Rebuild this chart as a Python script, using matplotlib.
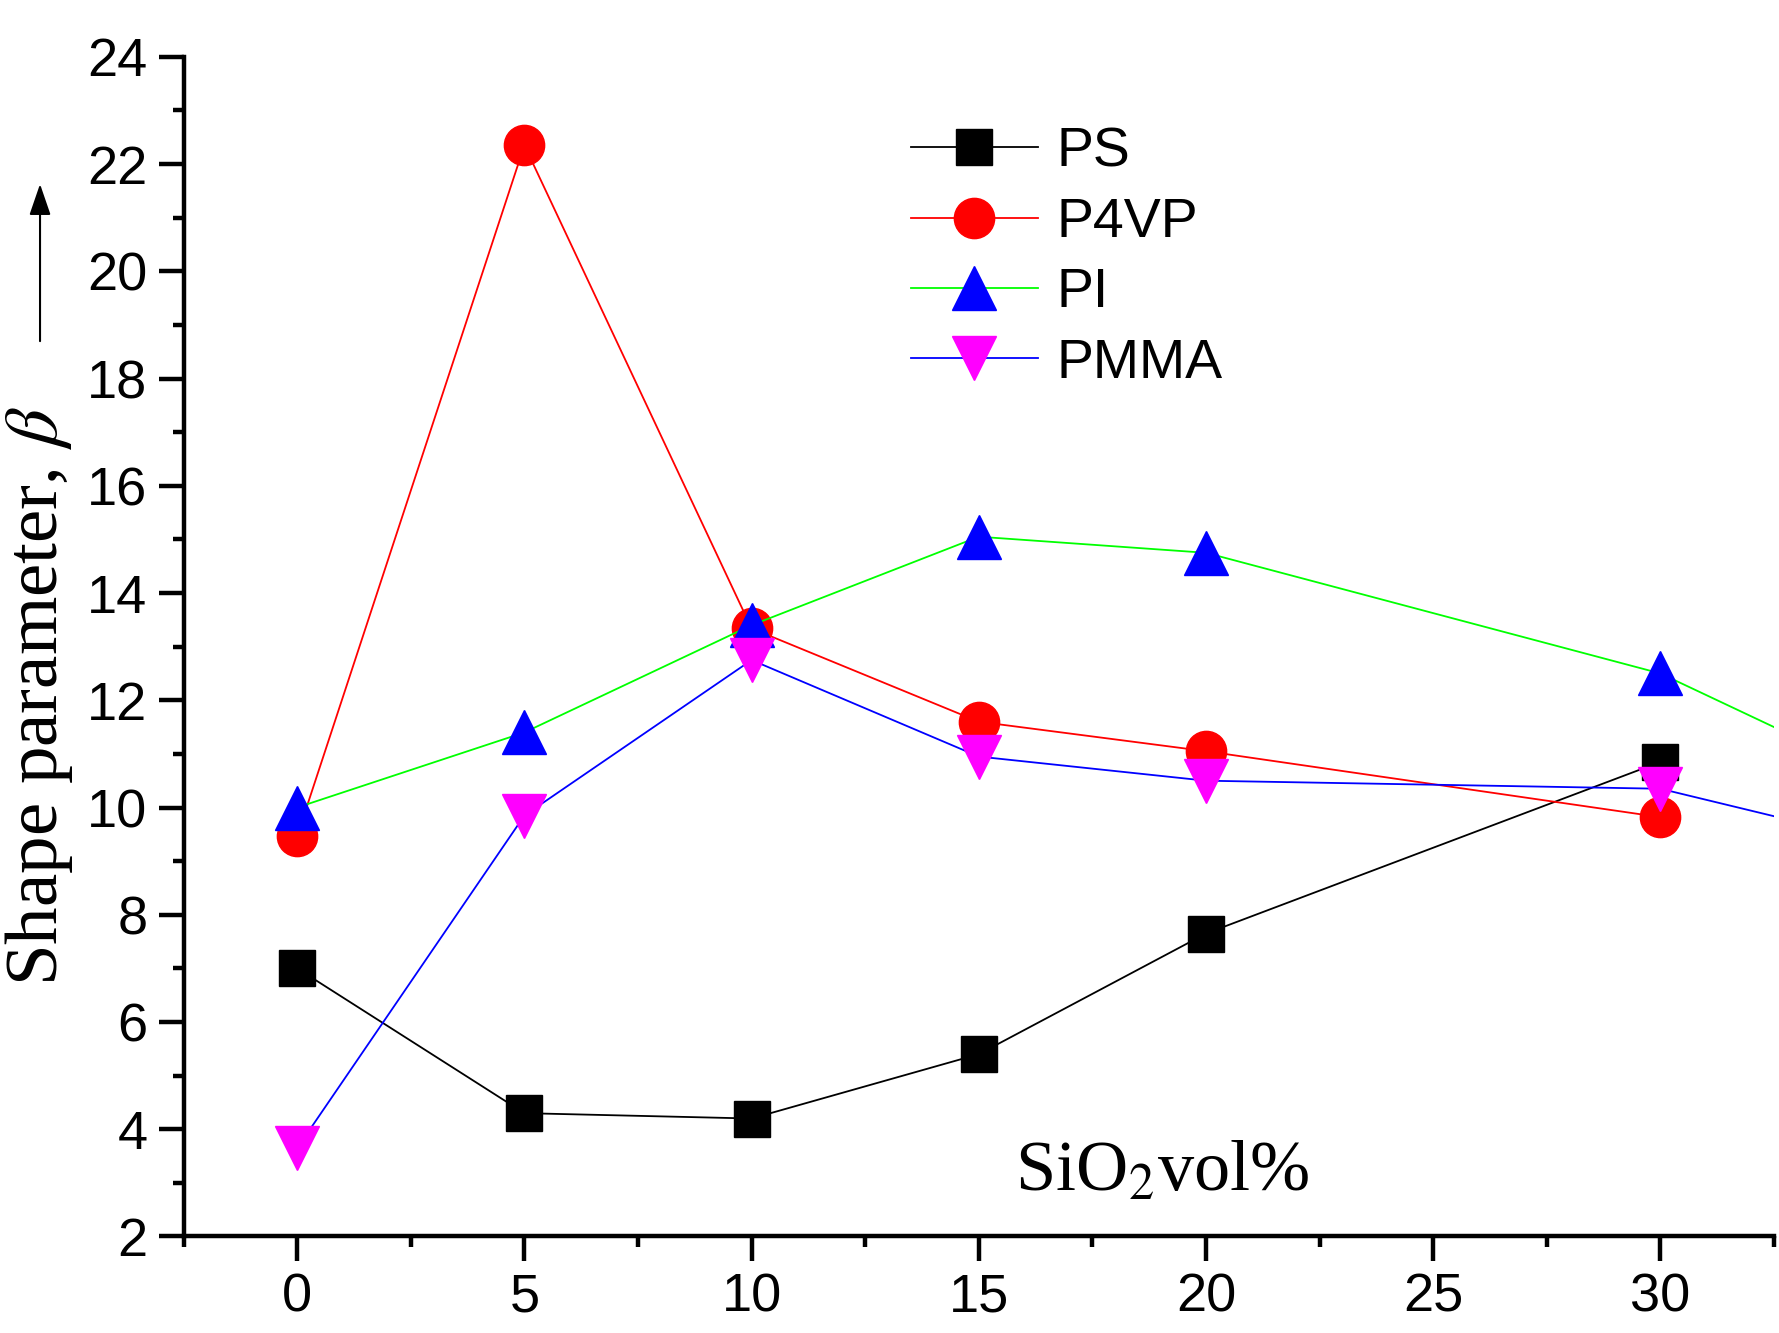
import numpy as np
import matplotlib.pyplot as plt
from matplotlib.patches import FancyArrowPatch
from matplotlib.ticker import MultipleLocator

plt.rcParams['font.family'] = ['Liberation Sans', 'DejaVu Sans']
plt.rcParams['mathtext.fontset'] = 'stix'

# SiO2 content (vol%); the last PI / PMMA point lies beyond the visible range
sio2 = [0, 5, 10, 15, 20, 30]
sio2_ext = [0, 5, 10, 15, 20, 30, 40]

ps = [7.0, 4.3, 4.2, 5.4, 7.65, 10.85]
p4vp = [9.47, 22.35, 13.34, 11.6, 11.05, 9.82]
pi = [10.0, 11.4, 13.4, 15.05, 14.75, 12.5, 8.5]
pmma = [3.65, 9.85, 12.75, 10.95, 10.5, 10.35, 8.3]

fig = plt.figure(figsize=(17.79, 13.33), dpi=100)
ax = fig.add_axes([0.1032, 0.0724, 0.894, 0.885])

lw = 1.3
ax.plot(sio2, ps, color='black', lw=lw, marker='s', ms=26,
        mfc='black', mec='black', label='PS')
ax.plot(sio2, p4vp, color='red', lw=lw, marker='o', ms=29,
        mfc='red', mec='red', label='P4VP')
ax.plot(sio2_ext, pi, color='#00ff00', lw=lw, marker='^', ms=32,
        mfc='blue', mec='blue', label='PI')
ax.plot(sio2_ext, pmma, color='blue', lw=lw, marker='v', ms=32,
        mfc='magenta', mec='magenta', label='PMMA')

ax.set_xlim(-2.5, 32.5)
ax.set_ylim(2, 24)
ax.xaxis.set_major_locator(MultipleLocator(5))
ax.xaxis.set_minor_locator(MultipleLocator(2.5))
ax.yaxis.set_major_locator(MultipleLocator(2))
ax.yaxis.set_minor_locator(MultipleLocator(1))

for side in ['top', 'right']:
    ax.spines[side].set_visible(False)
for side in ['left', 'bottom']:
    ax.spines[side].set_linewidth(3.2)

ax.tick_params(which='major', direction='out', length=18, width=3.2,
               labelsize=39, pad=8)
ax.tick_params(which='minor', direction='out', length=8, width=3.2)

leg = ax.legend(loc='upper left', bbox_to_anchor=(0.512, 0.905),
                bbox_transform=fig.transFigure, frameon=False, fontsize=40,
                handlelength=2.28, handletextpad=0.35, labelspacing=0.33,
                borderpad=0, borderaxespad=0, markerscale=1.0)

ax.text(0.615, 0.026, r'SiO$_2$vol%', transform=ax.transAxes,
        fontsize=52, family='Liberation Serif', ha='center', va='bottom')

fig.text(0.022, 0.478, r'Shape parameter, $\beta$', rotation=90,
         fontsize=54, family='Liberation Serif', ha='center', va='center')
fig.patches.append(FancyArrowPatch(
    (0.0225, 0.742), (0.0225, 0.864), transform=fig.transFigure,
    arrowstyle='-|>,head_length=1.6,head_width=0.55', lw=1.5,
    color='black', mutation_scale=12))

fig.savefig('out.png', dpi=100)
